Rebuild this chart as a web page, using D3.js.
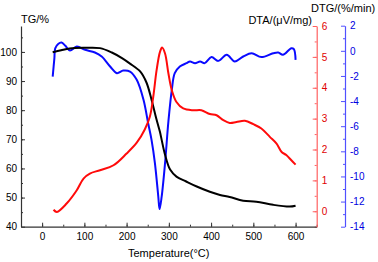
<!DOCTYPE html>
<html>
<head>
<meta charset="utf-8">
<script src="https://cdn.jsdelivr.net/npm/d3@7"></script>
<style>
  body { margin: 0; background: #fff; }
  text { font-family: "Liberation Sans", Arial, sans-serif; }
</style>
</head>
<body>
<div id="chart"></div>
<script>
// TG curve (black, left axis)
const tgTemp = [25, 45, 65, 100, 137, 165, 190, 208, 232, 247, 259, 271, 279, 283, 291, 303, 318, 340, 366, 397, 421, 444, 476, 507, 547, 586, 600];
const tgVal = [99.9, 100.6, 101.2, 101.4, 101.3, 99.8, 97.8, 96, 93.3, 89.5, 83.6, 76.7, 72.5, 69.8, 64.7, 59.6, 57.2, 55.6, 53.8, 52, 50.9, 50.2, 48.9, 48.6, 47.5, 46.9, 47.2];

// DTA curve (red, first right axis)
const dtaTemp = [27, 35, 58, 82, 98, 113, 137, 169, 200, 224, 243, 255, 263, 271, 279, 284, 291, 299, 307, 318, 334, 358, 377, 397, 413, 429, 444, 460, 480, 500, 519, 539, 555, 567, 578, 590, 600];
const dtaVal = [0.05, -0.02, 0.25, 0.68, 1.06, 1.22, 1.33, 1.49, 1.87, 2.22, 2.65, 3.06, 3.7, 4.57, 5.16, 5.3, 5.11, 4.46, 3.92, 3.54, 3.33, 3.27, 3.27, 3.15, 3.11, 2.95, 2.86, 2.89, 2.93, 2.82, 2.68, 2.41, 2.19, 1.92, 1.82, 1.65, 1.51];

// DTG curve (blue, second right axis)
const dtgTemp = [25, 29, 31, 38, 46, 55, 66, 82, 102, 125, 141, 161, 177, 192, 208, 224, 240, 251, 259, 267, 275, 278, 283, 291, 299, 307, 314, 326, 342, 350, 362, 374, 385, 401, 417, 437, 456, 476, 496, 519, 547, 559, 570, 590, 596, 600];
const dtgVal = [-2.05, -0.6, 0.2, 0.55, 0.66, 0.4, 0.02, 0.34, 0.08, -0.13, -0.45, -1.25, -1.78, -1.57, -1.65, -2.31, -3.9, -5.76, -7.09, -8.94, -11.6, -12.6, -11.6, -8.94, -5.6, -3.1, -1.78, -1.25, -0.98, -0.85, -0.98, -0.85, -0.98, -0.5, -0.8, -0.32, -0.85, -0.45, -0.19, -0.5, -0.19, -0.13, -0.32, 0.21, 0.13, -0.72];

// tick labels
const xTicks = [0, 100, 200, 300, 400, 500, 600];
const tgTicks = [40, 50, 60, 70, 80, 90, 100];
const dtaTicks = [0, 1, 2, 3, 4, 5, 6];
const dtgTicks = [2, 0, -2, -4, -6, -8, -10, -12, -14];

const width = 378, height = 262;
const margin = { left: 21, right: 316.7, top: 26, bottom: 226.7 };
const blueAxisX = 345;

const svg = d3.select("#chart").append("svg")
    .attr("width", width)
    .attr("height", height);

const x = d3.scaleLinear().domain([-50, 650]).range([margin.left, margin.right]);
const yTG = d3.scaleLinear().domain([40, 108.9]).range([margin.bottom, margin.top]);
const yDTA = d3.scaleLinear().domain([-0.5, 6]).range([margin.bottom, margin.top]);
const yDTG = d3.scaleLinear().domain([-14, 2]).range([margin.bottom, 25.7]);

function range(a, b, s) {
    let out = [];
    for (let v = a; v <= b + 1e-9; v += s) out.push(+v.toFixed(3));
    return out;
}

// minor ticks first
function minor(axisFn, scale, vals, tx, ty, color) {
    svg.append("g")
        .attr("transform", `translate(${tx},${ty})`)
        .call(axisFn(scale).tickValues(vals).tickSizeInner(-2).tickSizeOuter(0).tickFormat(""))
        .call(g => g.select(".domain").remove())
        .call(g => g.selectAll("line").attr("stroke", color));
}
minor(d3.axisBottom, x, range(-50, 650, 50), 0, margin.bottom, "#333");
minor(d3.axisLeft, yTG, range(45, 105, 5), margin.left, 0, "#333");
minor(d3.axisRight, yDTA, range(-0.5, 6, 0.5), margin.right, 0, "#ff6060");
minor(d3.axisRight, yDTG, range(-13, 1, 2), blueAxisX, 0, "#5050ff");

const font = "Liberation Sans, Arial, sans-serif";
const intFmt = d => String(d);

// X axis
svg.append("g")
    .attr("transform", `translate(0,${margin.bottom})`)
    .call(d3.axisBottom(x).tickValues(xTicks).tickFormat(intFmt).tickSizeInner(-4).tickSizeOuter(0).tickPadding(6))
    .call(g => g.select(".domain").attr("stroke", "#333").attr("stroke-width", 1.2))
    .call(g => g.selectAll("line").attr("stroke", "#333"))
    .call(g => g.selectAll("text").attr("font-size", 10).attr("fill", "#000").attr("font-family", font));

// TG axis
svg.append("g")
    .attr("transform", `translate(${margin.left},0)`)
    .call(d3.axisLeft(yTG).tickValues(tgTicks).tickFormat(intFmt).tickSizeInner(-4).tickSizeOuter(0).tickPadding(4))
    .call(g => g.select(".domain").attr("stroke", "#333").attr("stroke-width", 1.2))
    .call(g => g.selectAll("line").attr("stroke", "#333"))
    .call(g => g.selectAll("text").attr("font-size", 10).attr("fill", "#000").attr("font-family", font));

// DTA axis
svg.append("g")
    .attr("transform", `translate(${margin.right},0)`)
    .call(d3.axisRight(yDTA).tickValues(dtaTicks).tickFormat(intFmt).tickSizeInner(-4).tickSizeOuter(0).tickPadding(5))
    .call(g => g.select(".domain").attr("stroke", "#ff6060").attr("stroke-width", 1.2))
    .call(g => g.selectAll("line").attr("stroke", "#ff6060"))
    .call(g => g.selectAll("text").attr("font-size", 10).attr("fill", "#e00000").attr("font-family", font));

// DTG axis
svg.append("g")
    .attr("transform", `translate(${blueAxisX},0)`)
    .call(d3.axisRight(yDTG).tickValues(dtgTicks).tickFormat(intFmt).tickSizeInner(-4).tickSizeOuter(0).tickPadding(5))
    .call(g => g.select(".domain").attr("stroke", "#5050ff").attr("stroke-width", 1.2))
    .call(g => g.selectAll("line").attr("stroke", "#5050ff"))
    .call(g => g.selectAll("text").attr("font-size", 10).attr("fill", "#0000e0").attr("font-family", font));

// curves
function curve(temps, vals, yScale, color) {
    const pts = temps.map((t, i) => ({ t: t, v: vals[i] }));
    svg.append("path")
        .datum(pts)
        .attr("fill", "none")
        .attr("stroke", color)
        .attr("stroke-width", 2)
        .attr("stroke-linejoin", "round")
        .attr("d", d3.line()
            .curve(d3.curveCatmullRom.alpha(0.5))
            .x(d => x(d.t))
            .y(d => yScale(d.v)));
}
curve(dtgTemp, dtgVal, yDTG, "#0a0aff");
curve(tgTemp, tgVal, yTG, "#000");
curve(dtaTemp, dtaVal, yDTA, "#ff0a0a");

// titles
svg.append("text").attr("x", 21).attr("y", 23).attr("font-size", 11).text("TG/%");
svg.append("text").attr("x", 312).attr("y", 24).attr("font-size", 11)
    .attr("text-anchor", "end").text("DTA/(μV/mg)");
svg.append("text").attr("x", 311).attr("y", 12).attr("font-size", 11).text("DTG/(%/min)");
svg.append("text").attr("x", 128).attr("y", 257).attr("font-size", 11).text("Temperature(°C)");
</script>
</body>
</html>
